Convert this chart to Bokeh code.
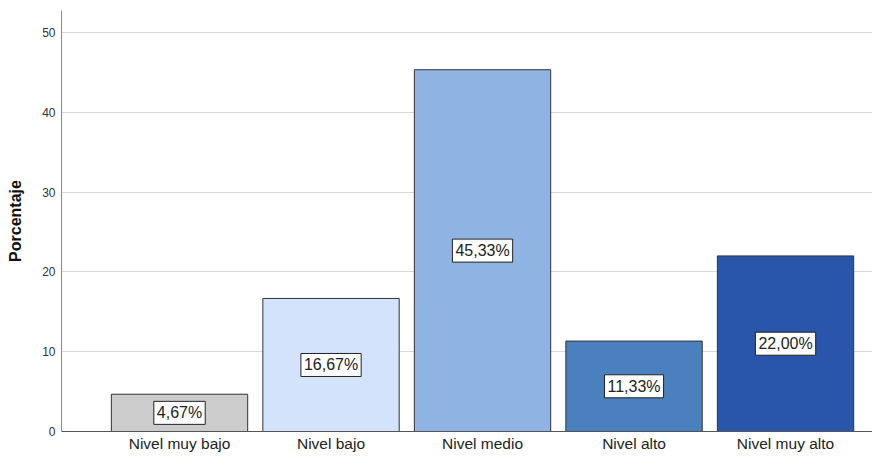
from bokeh.plotting import figure
from bokeh.models import ColumnDataSource, Range1d, FixedTicker
from bokeh.core.properties import value
from bokeh.embed import file_html
from bokeh.resources import INLINE

categories = ["Nivel muy bajo", "Nivel bajo", "Nivel medio", "Nivel alto", "Nivel muy alto"]
values = [4.67, 16.67, 45.33, 11.33, 22.00]
colors = ["#cccccc", "#d2e3fb", "#8fb3e2", "#4a80be", "#2955ab"]
y_ticks = [0, 10, 20, 30, 40, 50]

xs = list(range(1, len(categories) + 1))
src = ColumnDataSource(dict(
    x=xs,
    top=values,
    mid=[v / 2 for v in values],
    color=colors,
    label=[f"{v:.2f}%".replace(".", ",") for v in values],
))

p = figure(width=872, height=454, output_backend="svg", toolbar_location=None,
           x_range=Range1d(0.221, 5.574), y_range=Range1d(0, 52.75),
           min_border_left=61, min_border_right=0, min_border_top=10, min_border_bottom=22)

p.vbar(x="x", top="top", bottom=0, width=0.9, fill_color="color",
       line_color="#333333", line_width=1, source=src)

p.text(x="x", y="mid", text="label", source=src,
       text_align="center", text_baseline="middle",
       text_font=value("Liberation Sans"), text_font_size="16px", text_color="#222222",
       background_fill_color="white", border_line_color="#222222",
       border_line_width=1, padding=3)

p.outline_line_color = None
p.xgrid.grid_line_color = None
p.ygrid.grid_line_color = "#d9d9d9"
p.ygrid.grid_line_width = 1

p.xaxis.ticker = FixedTicker(ticks=xs)
p.xaxis.major_label_overrides = {i: c for i, c in zip(xs, categories)}
p.xaxis.major_tick_out = 0
p.xaxis.major_tick_in = 0
p.xaxis.minor_tick_out = 0
p.xaxis.minor_tick_in = 0
p.xaxis.axis_line_color = "#555555"
p.xaxis.major_label_text_font = "Liberation Sans"
p.xaxis.major_label_text_font_size = "15.5px"
p.xaxis.major_label_text_color = "#222222"
p.xaxis.major_label_standoff = 3

p.yaxis.ticker = FixedTicker(ticks=y_ticks)
p.yaxis.major_tick_out = 0
p.yaxis.major_tick_in = 0
p.yaxis.minor_tick_out = 0
p.yaxis.minor_tick_in = 0
p.yaxis.axis_line_color = "#8c8c8c"
p.yaxis.major_label_text_font = "Liberation Sans"
p.yaxis.major_label_text_font_size = "12px"
p.yaxis.major_label_text_color = "#333333"
p.yaxis.major_label_standoff = 6
p.yaxis.axis_label = "Porcentaje"
p.yaxis.axis_label_text_font = "Liberation Sans"
p.yaxis.axis_label_text_font_style = "bold"
p.yaxis.axis_label_text_font_size = "16px"
p.yaxis.axis_label_text_color = "#111111"
p.yaxis.axis_label_standoff = 15

open("out.html", "w").write(file_html(p, INLINE))
